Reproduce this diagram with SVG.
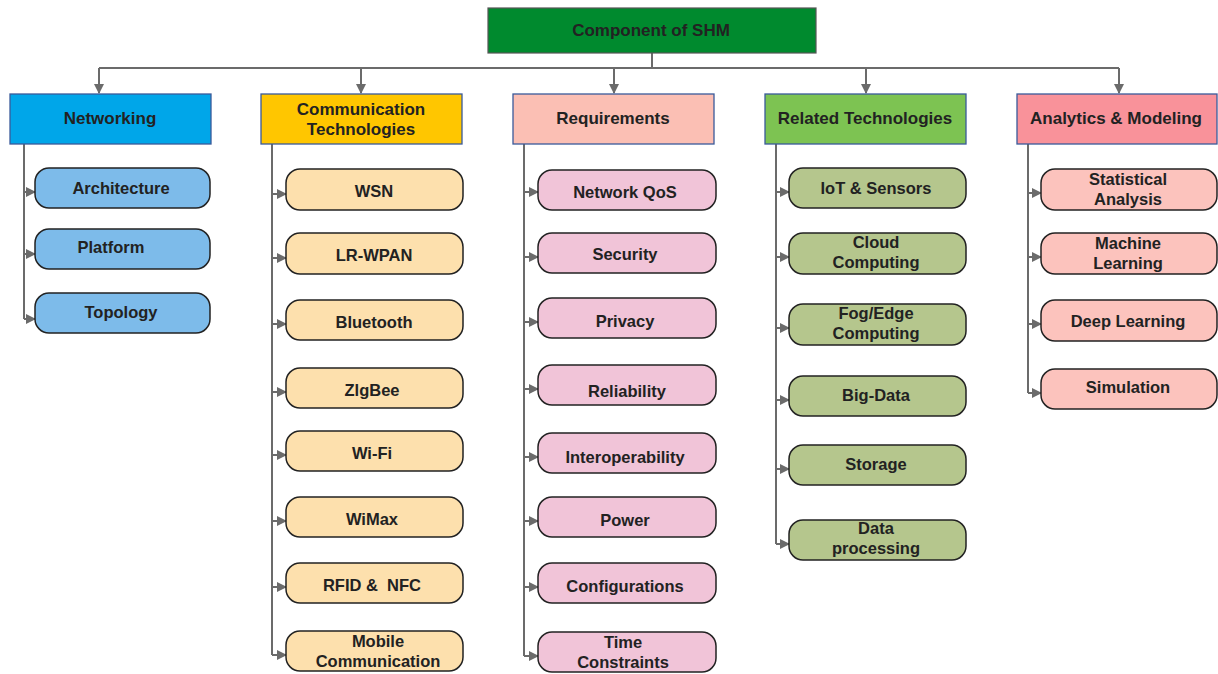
<svg xmlns="http://www.w3.org/2000/svg" width="1218" height="674" viewBox="0 0 1218 674">
  <style>
    text { font-family: "Liberation Sans", Arial, sans-serif; font-weight: bold; fill: #222; text-anchor: middle; }
    .t { font-size: 17px; }
    .c { font-size: 16.5px; }
    .cat { stroke: #3a5a9a; stroke-width: 1.3; }
    .item { stroke: #222; stroke-width: 1.5; }
    .wire { fill: none; stroke: #6b6b6b; stroke-width: 2; }
    .net { fill: #7dbbea; }
    .com { fill: #fde0ad; }
    .req { fill: #f1c4d8; }
    .rel { fill: #b5c68d; }
    .ana { fill: #fcc3bd; }
  </style>
  <defs>
    <marker id="ah" markerWidth="10" markerHeight="10" refX="9" refY="5" orient="auto" markerUnits="userSpaceOnUse">
      <path d="M0,0 L10,5 L0,10 Z" fill="#6b6b6b"/>
    </marker>
  </defs>
  <rect width="1218" height="674" fill="#ffffff"/>

  <!-- connectors -->
  <g id="connectors" class="wire">
    <path d="M652,53 V68"/>
    <path d="M99,68 H1119"/>
    <path d="M99,68 V93" marker-end="url(#ah)"/>
    <path d="M361,68 V93" marker-end="url(#ah)"/>
    <path d="M614,68 V93" marker-end="url(#ah)"/>
    <path d="M866,68 V93" marker-end="url(#ah)"/>
    <path d="M1119,68 V93" marker-end="url(#ah)"/>
    <!-- Networking -->
    <path d="M24,144 V319"/>
    <path d="M24,192 H35" marker-end="url(#ah)"/>
    <path d="M24,254 H35" marker-end="url(#ah)"/>
    <path d="M24,319 H35" marker-end="url(#ah)"/>
    <!-- Communication -->
    <path d="M272,144 V655"/>
    <path d="M272,194 H286" marker-end="url(#ah)"/>
    <path d="M272,258 H286" marker-end="url(#ah)"/>
    <path d="M272,324 H286" marker-end="url(#ah)"/>
    <path d="M272,392 H286" marker-end="url(#ah)"/>
    <path d="M272,455 H286" marker-end="url(#ah)"/>
    <path d="M272,521 H286" marker-end="url(#ah)"/>
    <path d="M272,587 H286" marker-end="url(#ah)"/>
    <path d="M272,655 H286" marker-end="url(#ah)"/>
    <!-- Requirements -->
    <path d="M524,144 V656"/>
    <path d="M524,192 H538" marker-end="url(#ah)"/>
    <path d="M524,257 H538" marker-end="url(#ah)"/>
    <path d="M524,322 H538" marker-end="url(#ah)"/>
    <path d="M524,389 H538" marker-end="url(#ah)"/>
    <path d="M524,457 H538" marker-end="url(#ah)"/>
    <path d="M524,521 H538" marker-end="url(#ah)"/>
    <path d="M524,587 H538" marker-end="url(#ah)"/>
    <path d="M524,656 H538" marker-end="url(#ah)"/>
    <!-- Related -->
    <path d="M776,144 V544"/>
    <path d="M776,192 H789" marker-end="url(#ah)"/>
    <path d="M776,257 H789" marker-end="url(#ah)"/>
    <path d="M776,328 H789" marker-end="url(#ah)"/>
    <path d="M776,400 H789" marker-end="url(#ah)"/>
    <path d="M776,469 H789" marker-end="url(#ah)"/>
    <path d="M776,544 H789" marker-end="url(#ah)"/>
    <!-- Analytics -->
    <path d="M1028,144 V393"/>
    <path d="M1028,193 H1041" marker-end="url(#ah)"/>
    <path d="M1028,257 H1041" marker-end="url(#ah)"/>
    <path d="M1028,324 H1041" marker-end="url(#ah)"/>
    <path d="M1028,393 H1041" marker-end="url(#ah)"/>
  </g>

  <!-- root -->
  <g id="root">
    <rect x="488" y="8" width="328" height="45" fill="#008a2e" stroke="#555" stroke-width="1.2"/>
    <text class="t" x="651" y="36">Component of SHM</text>
  </g>

  <!-- categories -->
  <g id="cat-networking">
    <rect class="cat" x="10" y="94" width="201" height="50" fill="#00a6e9" stroke="#888"/>
    <text class="t" x="110" y="124">Networking</text>
  </g>
  <g id="cat-communication">
    <rect class="cat" x="261" y="94" width="201" height="50" fill="#ffc600"/>
    <text class="t" x="361" y="115">Communication</text>
    <text class="t" x="361" y="135">Technologies</text>
  </g>
  <g id="cat-requirements">
    <rect class="cat" x="513" y="94" width="201" height="50" fill="#fbbfb4"/>
    <text class="t" x="613" y="124">Requirements</text>
  </g>
  <g id="cat-related">
    <rect class="cat" x="765" y="94" width="201" height="50" fill="#7dc352"/>
    <text class="t" x="865" y="124">Related Technologies</text>
  </g>
  <g id="cat-analytics">
    <rect class="cat" x="1017" y="94" width="200" height="50" fill="#f9929a"/>
    <text class="t" x="1116" y="124">Analytics &amp; Modeling</text>
  </g>

  <!-- Networking items -->
  <g id="n-architecture"><rect class="item net" x="35" y="168" width="175" height="40" rx="14"/><text class="c" x="121" y="194">Architecture</text></g>
  <g id="n-platform"><rect class="item net" x="35" y="229" width="175" height="40" rx="14"/><text class="c" x="111" y="253">Platform</text></g>
  <g id="n-topology"><rect class="item net" x="35" y="293" width="175" height="40" rx="14"/><text class="c" x="121" y="318">Topology</text></g>

  <!-- Communication items -->
  <g id="c-wsn"><rect class="item com" x="286" y="169" width="177" height="41" rx="14"/><text class="c" x="374" y="197">WSN</text></g>
  <g id="c-lrwpan"><rect class="item com" x="286" y="233" width="177" height="41" rx="14"/><text class="c" x="374" y="261">LR-WPAN</text></g>
  <g id="c-bluetooth"><rect class="item com" x="286" y="300" width="177" height="40" rx="14"/><text class="c" x="374" y="328">Bluetooth</text></g>
  <g id="c-zigbee"><rect class="item com" x="286" y="368" width="177" height="40" rx="14"/><text class="c" x="372" y="396">ZlgBee</text></g>
  <g id="c-wifi"><rect class="item com" x="286" y="431" width="177" height="40" rx="14"/><text class="c" x="372" y="459">Wi-Fi</text></g>
  <g id="c-wimax"><rect class="item com" x="286" y="497" width="177" height="40" rx="14"/><text class="c" x="372" y="525">WiMax</text></g>
  <g id="c-rfid"><rect class="item com" x="286" y="563" width="177" height="40" rx="14"/><text class="c" x="372" y="591" xml:space="preserve">RFID &amp;  NFC</text></g>
  <g id="c-mobile"><rect class="item com" x="286" y="631" width="177" height="40" rx="14"/><text class="c" x="378" y="647">Mobile</text><text class="c" x="378" y="667">Communication</text></g>

  <!-- Requirements items -->
  <g id="r-qos"><rect class="item req" x="538" y="170" width="178" height="40" rx="14"/><text class="c" x="625" y="198">Network QoS</text></g>
  <g id="r-security"><rect class="item req" x="538" y="233" width="178" height="40" rx="14"/><text class="c" x="625" y="260">Security</text></g>
  <g id="r-privacy"><rect class="item req" x="538" y="298" width="178" height="40" rx="14"/><text class="c" x="625" y="327">Privacy</text></g>
  <g id="r-reliability"><rect class="item req" x="538" y="365" width="178" height="40" rx="14"/><text class="c" x="627" y="397">Reliability</text></g>
  <g id="r-interop"><rect class="item req" x="538" y="433" width="178" height="40" rx="14"/><text class="c" x="625" y="463">Interoperability</text></g>
  <g id="r-power"><rect class="item req" x="538" y="497" width="178" height="40" rx="14"/><text class="c" x="625" y="526">Power</text></g>
  <g id="r-config"><rect class="item req" x="538" y="563" width="178" height="40" rx="14"/><text class="c" x="625" y="592">Configurations</text></g>
  <g id="r-time"><rect class="item req" x="538" y="632" width="178" height="40" rx="14"/><text class="c" x="623" y="648">Time</text><text class="c" x="623" y="668">Constraints</text></g>

  <!-- Related technology items -->
  <g id="t-iot"><rect class="item rel" x="789" y="168" width="177" height="40" rx="14"/><text class="c" x="876" y="194">IoT &amp; Sensors</text></g>
  <g id="t-cloud"><rect class="item rel" x="789" y="233" width="177" height="41" rx="14"/><text class="c" x="876" y="248">Cloud</text><text class="c" x="876" y="268">Computing</text></g>
  <g id="t-fog"><rect class="item rel" x="789" y="304" width="177" height="41" rx="14"/><text class="c" x="876" y="319">Fog/Edge</text><text class="c" x="876" y="339">Computing</text></g>
  <g id="t-bigdata"><rect class="item rel" x="789" y="376" width="177" height="40" rx="14"/><text class="c" x="876" y="401">Big-Data</text></g>
  <g id="t-storage"><rect class="item rel" x="789" y="445" width="177" height="40" rx="14"/><text class="c" x="876" y="470">Storage</text></g>
  <g id="t-dataproc"><rect class="item rel" x="789" y="520" width="177" height="40" rx="14"/><text class="c" x="876" y="534">Data</text><text class="c" x="876" y="554">processing</text></g>

  <!-- Analytics items -->
  <g id="a-stat"><rect class="item ana" x="1041" y="169" width="176" height="41" rx="14"/><text class="c" x="1128" y="185">Statistical</text><text class="c" x="1128" y="205">Analysis</text></g>
  <g id="a-ml"><rect class="item ana" x="1041" y="233" width="176" height="41" rx="14"/><text class="c" x="1128" y="249">Machine</text><text class="c" x="1128" y="269">Learning</text></g>
  <g id="a-dl"><rect class="item ana" x="1041" y="300" width="176" height="41" rx="14"/><text class="c" x="1128" y="327">Deep Learning</text></g>
  <g id="a-sim"><rect class="item ana" x="1041" y="369" width="176" height="40" rx="14"/><text class="c" x="1128" y="393">Simulation</text></g>
</svg>
